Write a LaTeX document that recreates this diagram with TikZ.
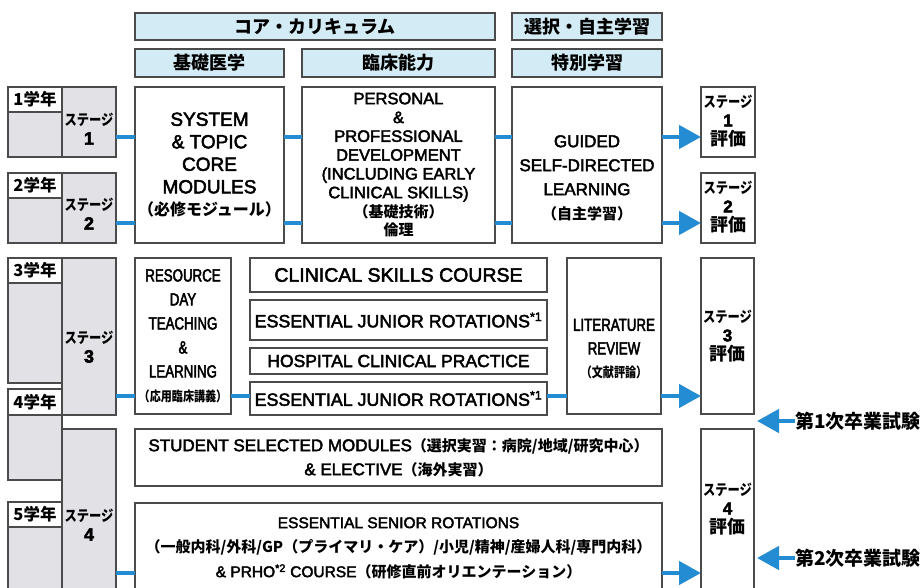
\documentclass[tikz,border=0pt]{standalone}
\usepackage{fontspec}
\setmainfont{Liberation Sans}[FakeBold=2.6]
\newfontfamily\jp{Noto Sans CJK JP}
\newfontfamily\cnd[FakeStretch=0.76,FakeBold=2.6]{Liberation Sans}
\newfontfamily\jpc[FakeStretch=0.82]{Noto Sans CJK JP}
\usetikzlibrary{arrows.meta}
\definecolor{hdr}{RGB}{211,235,244}
\definecolor{cellgray}{RGB}{226,226,230}
\definecolor{edge}{RGB}{75,75,75}
\definecolor{flow}{RGB}{36,140,210}
\newcommand\fs[2]{\fontsize{#1}{#2}\selectfont}
\newcommand\bx[7]{\node[#6, minimum width={(#4-#2)*1pt}, minimum height={(#5-#3)*1pt}] (#1) at ({(#2+#4)/2},{(#3+#5)/2}) {#7};}
\begin{document}
\begin{tikzpicture}[x=1pt,y=-1pt,
  bframe/.style={draw=edge, line width=1.4pt, inner sep=0pt, outer sep=0pt, align=center},
  hdrbox/.style={bframe, fill=hdr, font=\jp\bfseries\fs{18}{20}},
  graybox/.style={bframe, fill=cellgray},
  whitebox/.style={bframe, fill=white},
  txt/.style={inner sep=0pt, outer sep=0pt, align=center},
  conn/.style={draw=flow, line width=4.5pt},
  arr/.style={conn, -{Triangle[length=22pt,width=23pt]}},
  yrlabel/.style={whitebox, font=\jp\bfseries\fs{16.5}{18}},
  stagetxt/.style={txt, font=\bfseries\fs{18}{19}},
  evaltxt/.style={txt, font=\bfseries\fs{17}{19}},
  examtxt/.style={txt, anchor=west, font=\jp\bfseries\fs{19}{20}}]
\useasboundingbox (0,0) rectangle (924,587);
\clip (0,0) rectangle (924,587);
\fill[white] (0,0) rectangle (924,587);
% row coordinates
\coordinate (r1) at (0,137);
\coordinate (r2) at (0,223);
\coordinate (r3) at (0,396);
\coordinate (r4) at (0,573);
% headers
\bx{hcore}{135}{13}{495}{40}{hdrbox}{コア・カリキュラム}
\bx{hsel}{512}{13}{662}{40}{hdrbox}{選択・自主学習}
\bx{hbasic}{135}{49}{284}{77}{hdrbox}{基礎医学}
\bx{hclin}{302}{49}{495}{77}{hdrbox}{臨床能力}
\bx{hspec}{512}{49}{662}{77}{hdrbox}{特別学習}
% year 1 / 2
\bx{yr1}{8}{87}{62}{157}{graybox}{}
\bx{lb1}{8}{87}{62}{112}{yrlabel}{1学年}
\bx{st1}{62}{87}{116}{157}{graybox}{}
\node[stagetxt] (st1t) at (89,129) {{\jpc\bfseries\fs{15}{19}ステージ}\\1};
\bx{yr2}{8}{173}{62}{243}{graybox}{}
\bx{lb2}{8}{173}{62}{198}{yrlabel}{2学年}
\bx{st2}{62}{173}{116}{243}{graybox}{}
\node[stagetxt] (st2t) at (89,214) {{\jpc\bfseries\fs{15}{19}ステージ}\\2};
% year 3-5
\bx{yr3}{8}{258}{62}{383}{graybox}{}
\bx{lb3}{8}{258}{62}{283}{yrlabel}{3学年}
\bx{st3}{62}{258}{116}{415}{graybox}{}
\node[stagetxt] (st3t) at (89,347) {{\jpc\bfseries\fs{15}{19}ステージ}\\3};
\bx{yr4}{8}{389}{62}{480}{graybox}{}
\bx{lb4}{8}{389}{62}{415}{yrlabel}{4学年}
\bx{st4}{62}{429}{116}{610}{graybox}{}
\node[stagetxt] (st4t) at (89,525) {{\jpc\bfseries\fs{15}{19}ステージ}\\4};
\bx{yr5}{8}{502}{62}{610}{graybox}{}
\bx{lb5}{8}{502}{62}{527}{yrlabel}{5学年}
% stage 1-2 modules
\bx{sys}{135}{87}{284}{243}{whitebox, font=\fs{19}{22.5}}{SYSTEM\\\& TOPIC\\CORE\\MODULES\\{\jp\bfseries\fs{16}{22.5}（必修モジュール）}}
\bx{pers}{302}{87}{495}{243}{whitebox, font=\fs{16.5}{18.8}}{PERSONAL\\\&\\PROFESSIONAL\\DEVELOPMENT\\(INCLUDING EARLY\\CLINICAL SKILLS)\\{\jp\bfseries\fs{15}{18.8}（基礎技術）}\\{\jp\bfseries\fs{15}{18.8}倫理}}
\bx{guid}{512}{87}{662}{243}{whitebox}{}
\node[txt, font=\fs{17}{24}] (guidt) at (587,178) {GUIDED\\SELF-DIRECTED\\LEARNING\\{\jp\bfseries\fs{15}{24}（自主学習）}};
\bx{ev1}{701}{87}{755}{157}{whitebox}{}
\node[evaltxt] (ev1t) at (728,121) {{\jpc\bfseries\fs{15}{19}ステージ}\\1\\{\jp\bfseries\fs{18}{19}評価}};
\bx{ev2}{701}{173}{755}{243}{whitebox}{}
\node[evaltxt] (ev2t) at (728,207) {{\jpc\bfseries\fs{15}{19}ステージ}\\2\\{\jp\bfseries\fs{18}{19}評価}};
% stage 3
\bx{res}{135}{258}{231}{414}{whitebox, font=\cnd\fs{17.5}{24}}{RESOURCE\\DAY\\TEACHING\\\&\\LEARNING\\{\jpc\bfseries\fs{13.5}{24}（応用臨床講義）}}
\bx{csc}{250}{258}{547}{292}{whitebox, font=\fs{19.5}{20}}{CLINICAL SKILLS COURSE}
\bx{ejra}{250}{300}{547}{340}{whitebox, font=\fs{17.8}{20}}{ESSENTIAL JUNIOR ROTATIONS\textsuperscript{*1}}
\bx{hcp}{250}{348}{547}{374}{whitebox, font=\fs{17.5}{20}}{HOSPITAL CLINICAL PRACTICE}
\bx{ejrb}{250}{382}{547}{415}{whitebox, font=\fs{17.8}{20}}{ESSENTIAL JUNIOR ROTATIONS\textsuperscript{*1}}
\bx{lit}{567}{258}{661}{414}{whitebox}{}
\node[txt, font=\cnd\fs{17.5}{23.5}] (litt) at (614,349) {LITERATURE\\REVIEW\\{\jpc\bfseries\fs{13.5}{23.5}（文献評論）}};
\bx{ev3}{701}{258}{754}{414}{whitebox}{}
\node[evaltxt] (ev3t) at (727.5,336) {{\jpc\bfseries\fs{15}{19}ステージ}\\3\\{\jp\bfseries\fs{18}{19}評価}};
% stage 4
\bx{ssm}{135}{429}{662}{486}{whitebox, font=\fs{17}{24}}{STUDENT SELECTED MODULES{\jp\bfseries\fs{15}{24}（選択実習：病院/地域/研究中心）}\\\& ELECTIVE{\jp\bfseries\fs{15}{24}（海外実習）}}
\bx{esr}{135}{503}{662}{610}{whitebox}{}
\node[txt, font=\fs{15.5}{24.5}] (esrt) at (398.5,548) {ESSENTIAL SENIOR ROTATIONS\\{\jp\bfseries\fs{15}{24.5}（一般内科/外科/GP（プライマリ・ケア）/小児/精神/産婦人科/専門内科）}\\\& PRHO\textsuperscript{*2} COURSE{\jp\bfseries\fs{15}{24.5}（研修直前オリエンテーション）}};
\bx{ev4}{701}{429}{754}{590}{whitebox}{}
\node[evaltxt] (ev4t) at (727.5,509) {{\jpc\bfseries\fs{15}{19}ステージ}\\4\\{\jp\bfseries\fs{18}{19}評価}};
% exams
\node[examtxt] (ex1) at (795,421) {第1次卒業試験};
\node[examtxt] (ex2) at (795,558) {第2次卒業試験};
% connectors
\draw[conn] (st1.east |- r1) -- (sys.west |- r1);
\draw[conn] (sys.east |- r1) -- (pers.west |- r1);
\draw[conn] (pers.east |- r1) -- (guid.west |- r1);
\draw[arr] (guid.east |- r1) -- (ev1.west |- r1);
\draw[conn] (st2.east |- r2) -- (sys.west |- r2);
\draw[conn] (sys.east |- r2) -- (pers.west |- r2);
\draw[conn] (pers.east |- r2) -- (guid.west |- r2);
\draw[arr] (guid.east |- r2) -- (ev2.west |- r2);
\draw[conn] (st3.east |- r3) -- (res.west |- r3);
\draw[conn] (res.east |- r3) -- (ejrb.west |- r3);
\draw[conn] (ejrb.east |- r3) -- (lit.west |- r3);
\draw[arr] (lit.east |- r3) -- (ev3.west |- r3);
\draw[conn] (st4.east |- r4) -- (esr.west |- r4);
\draw[arr] (esr.east |- r4) -- (ev4.west |- r4);
\draw[arr, shorten >=3pt] (ex1.west) -- (ev3.east |- ex1.west);
\draw[arr, shorten >=3pt] (ex2.west) -- (ev4.east |- ex2.west);
\end{tikzpicture}
\end{document}
